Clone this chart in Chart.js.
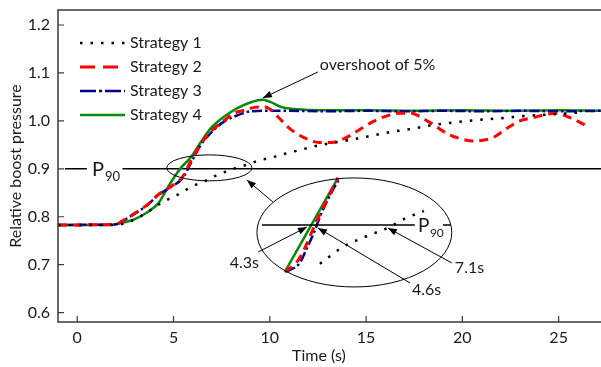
<!DOCTYPE html>
<html>
<head>
<meta charset="utf-8">
<script src="https://cdn.jsdelivr.net/npm/chart.js@4.4.0/dist/chart.umd.min.js"></script>
<style>
  body { margin: 0; background: #fff; }
  canvas { display: block; }
</style>
</head>
<body>
<canvas id="boostChart" width="601" height="367"></canvas>
<script>
// axis ticks
const xTicks = [0, 5, 10, 15, 20, 25];
const yTicks = [0.6, 0.7, 0.8, 0.9, 1.0, 1.1, 1.2];

// Strategy 1 (black dotted)
const time1 = [-1, 2.0, 2.9, 3.66, 4.33, 4.75, 5.22, 5.64, 6.06, 6.78, 7.2, 7.72, 8.24, 8.76, 9.18, 9.8, 10.32, 10.84, 11.26, 11.63, 12.67, 13.86, 14.65, 15.53, 16.3, 16.99, 17.6, 18.4, 19.18, 20.06, 21.1, 22.15, 23.19, 24.39, 25.54, 26.3];
const strategy1 = [0.783, 0.783, 0.793, 0.810, 0.828, 0.837, 0.846, 0.856, 0.865, 0.877, 0.886, 0.894, 0.902, 0.908, 0.914, 0.921, 0.926, 0.932, 0.936, 0.940, 0.950, 0.958, 0.964, 0.971, 0.977, 0.981, 0.985, 0.991, 0.995, 0.999, 1.003, 1.006, 1.010, 1.013, 1.016, 1.018];

// Strategy 2 (red dashed)
const time2 = [-1, 2.0, 2.25, 2.93, 3.66, 4.23, 4.86, 5.48, 5.9, 6.42, 6.94, 7.6, 8.14, 8.66, 9.39, 9.65, 9.96, 10.48, 11.0, 11.73, 12.56, 13.19, 13.86, 14.75, 15.38, 16.05, 16.73, 17.35, 17.88, 18.5, 19.18, 19.8, 20.58, 21.26, 21.68, 22.3, 22.98, 23.7, 24.28, 24.9, 25.33, 25.96, 26.6];
const strategy2 = [0.783, 0.784, 0.789, 0.806, 0.826, 0.847, 0.863, 0.884, 0.917, 0.952, 0.978, 1.000, 1.016, 1.022, 1.029, 1.029, 1.026, 1.006, 0.985, 0.966, 0.955, 0.955, 0.963, 0.984, 0.999, 1.010, 1.016, 1.016, 1.007, 0.992, 0.974, 0.964, 0.958, 0.961, 0.967, 0.984, 1.000, 1.007, 1.013, 1.016, 1.011, 1.000, 0.986];

// Strategy 3 (blue dash-dot)
const time3 = [-1, 2.0, 2.25, 2.93, 3.66, 4.23, 4.86, 5.48, 5.9, 6.42, 6.94, 7.6, 8.34, 9.02, 9.65, 11, 13, 15, 17, 19, 21, 23, 25, 27.2];
const strategy3 = [0.783, 0.784, 0.789, 0.805, 0.825, 0.846, 0.862, 0.881, 0.912, 0.950, 0.975, 0.998, 1.012, 1.020, 1.021, 1.021, 1.020, 1.021, 1.020, 1.021, 1.020, 1.021, 1.020, 1.021];

// Strategy 4 (green solid)
const time4 = [-1, 1.7, 2.25, 2.93, 3.66, 4.23, 4.49, 4.85, 5.38, 5.9, 6.42, 6.94, 7.6, 8.34, 9.02, 9.65, 10.06, 10.58, 11.26, 12.67, 15, 17.5, 20, 22.5, 25, 27.2];
const strategy4 = [0.783, 0.783, 0.787, 0.794, 0.810, 0.829, 0.846, 0.871, 0.902, 0.924, 0.956, 0.985, 1.008, 1.027, 1.039, 1.044, 1.039, 1.029, 1.025, 1.022, 1.022, 1.021, 1.022, 1.021, 1.022, 1.021];

// zoomed inset curves (drawn in the big ellipse)
const insetTime2 = [10.78, 11.41, 11.77, 12.34, 12.96, 13.54];
const insetVal2 = [0.685, 0.706, 0.731, 0.783, 0.835, 0.881];
const insetTime3 = [10.84, 11.56, 11.93, 12.24, 12.71, 13.22, 13.64];
const insetVal3 = [0.685, 0.704, 0.735, 0.762, 0.810, 0.852, 0.881];
const insetTime4 = [10.78, 13.54];
const insetVal4 = [0.685, 0.881];
const insetTime1 = [12.60, 13.80, 14.94, 16.13, 17.01, 18.0];
const insetVal1 = [0.702, 0.737, 0.758, 0.777, 0.796, 0.812];

const FONT = 'Lato, "Open Sans", sans-serif';
const INK = '#1a1a1a';

function pts(ts, vs) {
  return ts.map((t, i) => ({ x: t, y: vs[i] }));
}

const styles = {
  s1: { color: '#000000', width: 2.5, dash: [2.5, 8] },
  s2: { color: '#ff0000', width: 3, dash: [9, 6] },
  s3: { color: '#00008b', width: 2.5, dash: [10, 3, 2.5, 3] },
  s4: { color: '#0a8a0a', width: 2.5, dash: [] }
};

function ds(label, data, st) {
  return {
    label: label,
    data: data,
    borderColor: st.color,
    borderWidth: st.width,
    borderDash: st.dash,
    pointRadius: 0,
    fill: false,
    cubicInterpolationMode: 'monotone'
  };
}

// arrow with filled head at (x2, y2)
function arrow(ctx, x1, y1, x2, y2) {
  ctx.beginPath();
  ctx.moveTo(x1, y1);
  ctx.lineTo(x2, y2);
  ctx.stroke();
  const a = Math.atan2(y2 - y1, x2 - x1);
  const len = 9, hw = 3.5;
  ctx.beginPath();
  ctx.moveTo(x2, y2);
  ctx.lineTo(x2 - len * Math.cos(a) + hw * Math.sin(a), y2 - len * Math.sin(a) - hw * Math.cos(a));
  ctx.lineTo(x2 - len * Math.cos(a) - hw * Math.sin(a), y2 - len * Math.sin(a) + hw * Math.cos(a));
  ctx.closePath();
  ctx.fill();
}

const decorPlugin = {
  id: 'decor',
  beforeDatasetsDraw(chart) {
    const { ctx, scales: { x, y } } = chart;
    ctx.save();
    ctx.strokeStyle = '#000';
    ctx.lineWidth = 1.5;
    // P90 reference line
    const y90 = y.getPixelForValue(0.9);
    ctx.beginPath();
    ctx.moveTo(x.getPixelForValue(-0.64), y90);
    ctx.lineTo(x.getPixelForValue(0.5), y90);
    ctx.moveTo(x.getPixelForValue(2.35), y90);
    ctx.lineTo(x.getPixelForValue(27.2), y90);
    ctx.stroke();
    ctx.fillStyle = INK;
    ctx.textBaseline = 'middle';
    ctx.font = '20px ' + FONT;
    ctx.fillText('P', x.getPixelForValue(0.76), y90 + 1);
    ctx.font = '13px ' + FONT;
    ctx.fillText('90', x.getPixelForValue(0.76) + 13, y90 + 8);
    ctx.restore();
  },
  afterDatasetsDraw(chart) {
    const { ctx, chartArea: ca, scales: { x, y } } = chart;
    ctx.save();
    // frame
    ctx.strokeStyle = '#3a3a3a';
    ctx.lineWidth = 1.5;
    ctx.beginPath();
    ctx.moveTo(ca.right, ca.top);
    ctx.lineTo(ca.left, ca.top);
    ctx.lineTo(ca.left, ca.bottom);
    ctx.lineTo(ca.right, ca.bottom);
    ctx.stroke();
    // inward tick marks
    ctx.lineWidth = 1.2;
    ctx.beginPath();
    yTicks.forEach(v => {
      const py = y.getPixelForValue(v);
      ctx.moveTo(ca.left, py);
      ctx.lineTo(ca.left + 6, py);
    });
    xTicks.forEach(v => {
      const px = x.getPixelForValue(v);
      ctx.moveTo(px, ca.bottom);
      ctx.lineTo(px, ca.bottom - 6);
    });
    ctx.stroke();

    // ellipses
    ctx.strokeStyle = '#000';
    ctx.lineWidth = 1;
    function ellipse(ct, cv, rt, rv) {
      const cx = x.getPixelForValue(ct), cy = y.getPixelForValue(cv);
      const rx = x.getPixelForValue(ct + rt) - cx;
      const ry = cy - y.getPixelForValue(cv + rv);
      ctx.beginPath();
      ctx.ellipse(cx, cy, rx, ry, 0, 0, Math.PI * 2);
      ctx.stroke();
    }
    ellipse(6.86, 0.902, 2.21, 0.0271);
    ellipse(14.39, 0.7673, 5.06, 0.1137);

    // inset P90 line
    const yi = y.getPixelForValue(0.7829);
    ctx.lineWidth = 1.5;
    ctx.beginPath();
    ctx.moveTo(x.getPixelForValue(9.59), yi);
    ctx.lineTo(x.getPixelForValue(17.53), yi);
    ctx.moveTo(x.getPixelForValue(18.99), yi);
    ctx.lineTo(x.getPixelForValue(19.40), yi);
    ctx.stroke();

    // arrows
    ctx.fillStyle = '#000';
    ctx.lineWidth = 1;
    const A = (t1, v1, t2, v2) => arrow(ctx, x.getPixelForValue(t1), y.getPixelForValue(v1), x.getPixelForValue(t2), y.getPixelForValue(v2));
    A(12.50, 1.102, 9.64, 1.0478);
    A(10.16, 0.8309, 8.81, 0.8767);
    A(9.40, 0.7266, 11.93, 0.7787);
    A(17.28, 0.662, 12.50, 0.7767);
    A(19.45, 0.7037, 16.13, 0.7767);

    // annotation texts
    ctx.fillStyle = INK;
    ctx.textBaseline = 'middle';
    ctx.font = '16px ' + FONT;
    ctx.textAlign = 'left';
    ctx.fillText('overshoot of 5%', x.getPixelForValue(12.6), y.getPixelForValue(1.1166));
    ctx.fillText('4.6s', x.getPixelForValue(17.38), y.getPixelForValue(0.6481));
    ctx.fillText('7.1s', x.getPixelForValue(19.61), y.getPixelForValue(0.6937));
    ctx.textAlign = 'right';
    ctx.fillText('4.3s', x.getPixelForValue(9.44), y.getPixelForValue(0.7042));
    ctx.textAlign = 'left';
    ctx.font = '19px ' + FONT;
    ctx.fillText('P', x.getPixelForValue(17.69), yi + 1);
    ctx.font = '12px ' + FONT;
    ctx.fillText('90', x.getPixelForValue(17.69) + 12, yi + 8);

    // legend
    const legend = [
      ['Strategy 1', styles.s1, [2.5, 8]],
      ['Strategy 2', styles.s2, [15, 8]],
      ['Strategy 3', styles.s3, [16, 3, 3, 3]],
      ['Strategy 4', styles.s4, []]
    ];
    legend.forEach((item, i) => {
      const ly = ca.top + 33 + i * 24;
      const lx = ca.left + 22;
      ctx.strokeStyle = item[1].color;
      ctx.lineWidth = item[1].width;
      ctx.setLineDash(item[2]);
      ctx.beginPath();
      ctx.moveTo(lx, ly);
      ctx.lineTo(lx + 45, ly);
      ctx.stroke();
      ctx.setLineDash([]);
      ctx.fillStyle = INK;
      ctx.font = '16px ' + FONT;
      ctx.textAlign = 'left';
      ctx.fillText(item[0], lx + 50, ly);
    });

    // axis titles
    ctx.font = '16px ' + FONT;
    ctx.textAlign = 'center';
    ctx.fillText('Time (s)', 319, 356);
    ctx.translate(16, 166);
    ctx.rotate(-Math.PI / 2);
    ctx.fillText('Relative boost pressure', 0, 0);
    ctx.restore();
  }
};

const insetStyle = (st) => ds('', [], st);

new Chart(document.getElementById('boostChart').getContext('2d'), {
  type: 'line',
  data: {
    datasets: [
      ds('Strategy 1', pts(time1, strategy1), styles.s1),
      ds('Strategy 2', pts(time2, strategy2), styles.s2),
      ds('Strategy 3', pts(time3, strategy3), styles.s3),
      ds('Strategy 4', pts(time4, strategy4), styles.s4),
      Object.assign(insetStyle(styles.s1), { data: pts(insetTime1, insetVal1) }),
      Object.assign(insetStyle(styles.s2), { data: pts(insetTime2, insetVal2) }),
      Object.assign(insetStyle(styles.s3), { data: pts(insetTime3, insetVal3) }),
      Object.assign(insetStyle(styles.s4), { data: pts(insetTime4, insetVal4) })
    ]
  },
  options: {
    responsive: false,
    animation: false,
    devicePixelRatio: 1,
    layout: { padding: { top: 10, right: 0, left: 0, bottom: 0 } },
    plugins: { legend: { display: false }, tooltip: { enabled: false } },
    scales: {
      x: {
        type: 'linear',
        min: -1,
        max: 27.2,
        afterBuildTicks: s => { s.ticks = xTicks.map(v => ({ value: v })); },
        afterFit: s => { s.height = 45; s.paddingLeft = 0; s.paddingRight = 0; },
        grid: { display: false, drawTicks: false },
        border: { display: false },
        ticks: { color: INK, font: { family: FONT, size: 16 }, padding: 6, maxRotation: 0 }
      },
      y: {
        min: 0.5805,
        max: 1.2313,
        afterBuildTicks: s => { s.ticks = yTicks.map(v => ({ value: v })); },
        afterFit: s => { s.width = 58; s.paddingTop = 0; s.paddingBottom = 0; },
        grid: { display: false, drawTicks: false },
        border: { display: false },
        ticks: { color: INK, font: { family: FONT, size: 16 }, padding: 8, callback: v => v.toFixed(1) }
      }
    }
  },
  plugins: [decorPlugin]
});
</script>
</body>
</html>
